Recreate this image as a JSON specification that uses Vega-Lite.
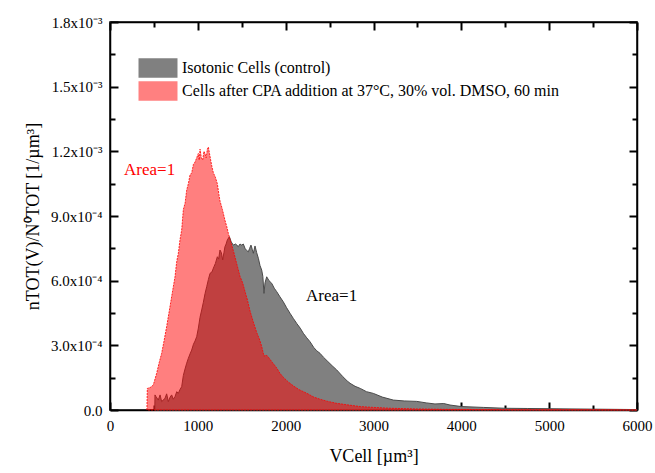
{
  "$schema": "https://vega.github.io/schema/vega-lite/v6.json",
  "width": 527,
  "height": 388,
  "autosize": "none",
  "padding": {"left": 110, "top": 22, "right": 18, "bottom": 63},
  "background": "white",
  "config": {"view": {"stroke": "black", "strokeWidth": 1.5}},
  "datasets": {
    "curves": [
      {"s":"g","V":510,"n":0},{"s":"g","V":512,"n":0.00007},{"s":"g","V":524,"n":0.000062},{"s":"g","V":550,"n":0.000046},{"s":"g","V":570,"n":0.00007},{"s":"g","V":588,"n":0.000039},{"s":"g","V":626,"n":0.000054},{"s":"g","V":645,"n":0.000075},{"s":"g","V":664,"n":0.000039},{"s":"g","V":685,"n":0.00006},{"s":"g","V":702,"n":0.00007},{"s":"g","V":720,"n":0.00005},{"s":"g","V":740,"n":0.000062},{"s":"g","V":760,"n":0.000085},{"s":"g","V":778,"n":0.000077},{"s":"g","V":797,"n":0.000095},{"s":"g","V":816,"n":0.000108},{"s":"g","V":835,"n":0.00016},{"s":"g","V":854,"n":0.00019},{"s":"g","V":873,"n":0.000217},{"s":"g","V":892,"n":0.00024},{"s":"g","V":911,"n":0.00026},{"s":"g","V":930,"n":0.000278},{"s":"g","V":950,"n":0.000305},{"s":"g","V":968,"n":0.00032},{"s":"g","V":987,"n":0.00034},{"s":"g","V":1006,"n":0.00038},{"s":"g","V":1025,"n":0.00043},{"s":"g","V":1044,"n":0.000464},{"s":"g","V":1063,"n":0.0005},{"s":"g","V":1082,"n":0.00054},{"s":"g","V":1101,"n":0.000572},{"s":"g","V":1120,"n":0.000605},{"s":"g","V":1139,"n":0.000634},{"s":"g","V":1160,"n":0.00064},{"s":"g","V":1184,"n":0.000665},{"s":"g","V":1200,"n":0.00068},{"s":"g","V":1222,"n":0.000711},{"s":"g","V":1237,"n":0.0007},{"s":"g","V":1252,"n":0.000742},{"s":"g","V":1268,"n":0.00073},{"s":"g","V":1283,"n":0.000696},{"s":"g","V":1297,"n":0.00073},{"s":"g","V":1309,"n":0.000758},{"s":"g","V":1322,"n":0.00077},{"s":"g","V":1336,"n":0.000789},{"s":"g","V":1359,"n":0.000804},{"s":"g","V":1380,"n":0.00078},{"s":"g","V":1404,"n":0.000765},{"s":"g","V":1430,"n":0.00077},{"s":"g","V":1461,"n":0.000758},{"s":"g","V":1480,"n":0.00077},{"s":"g","V":1499,"n":0.000765},{"s":"g","V":1518,"n":0.00077},{"s":"g","V":1537,"n":0.00075},{"s":"g","V":1556,"n":0.00074},{"s":"g","V":1575,"n":0.000734},{"s":"g","V":1590,"n":0.00075},{"s":"g","V":1605,"n":0.000765},{"s":"g","V":1620,"n":0.000745},{"s":"g","V":1632,"n":0.000727},{"s":"g","V":1651,"n":0.000761},{"s":"g","V":1670,"n":0.00073},{"s":"g","V":1689,"n":0.000704},{"s":"g","V":1708,"n":0.00067},{"s":"g","V":1727,"n":0.000649},{"s":"g","V":1740,"n":0.00062},{"s":"g","V":1753,"n":0.000541},{"s":"g","V":1765,"n":0.00059},{"s":"g","V":1784,"n":0.000618},{"s":"g","V":1810,"n":0.0006},{"s":"g","V":1841,"n":0.000588},{"s":"g","V":1870,"n":0.000565},{"s":"g","V":1898,"n":0.000549},{"s":"g","V":1935,"n":0.000525},{"s":"g","V":1973,"n":0.000502},{"s":"g","V":2010,"n":0.000475},{"s":"g","V":2049,"n":0.000449},{"s":"g","V":2087,"n":0.000425},{"s":"g","V":2125,"n":0.000402},{"s":"g","V":2165,"n":0.00038},{"s":"g","V":2201,"n":0.000356},{"s":"g","V":2240,"n":0.000335},{"s":"g","V":2277,"n":0.000317},{"s":"g","V":2320,"n":0.00029},{"s":"g","V":2353,"n":0.000275},{"s":"g","V":2391,"n":0.000263},{"s":"g","V":2430,"n":0.000245},{"s":"g","V":2480,"n":0.000225},{"s":"g","V":2530,"n":0.000205},{"s":"g","V":2581,"n":0.000186},{"s":"g","V":2650,"n":0.000155},{"s":"g","V":2700,"n":0.000135},{"s":"g","V":2733,"n":0.000124},{"s":"g","V":2790,"n":0.00011},{"s":"g","V":2850,"n":0.0001},{"s":"g","V":2920,"n":0.000085},{"s":"g","V":2998,"n":0.000077},{"s":"g","V":3100,"n":0.00006},{"s":"g","V":3226,"n":0.000046},{"s":"g","V":3350,"n":0.000042},{"s":"g","V":3492,"n":0.00004},{"s":"g","V":3600,"n":0.000033},{"s":"g","V":3700,"n":0.000028},{"s":"g","V":3800,"n":0.00003},{"s":"g","V":3871,"n":0.000023},{"s":"g","V":4000,"n":0.000016},{"s":"g","V":4250,"n":0.000012},{"s":"g","V":4500,"n":0.000008},{"s":"g","V":4750,"n":0.000007},{"s":"g","V":5010,"n":0.000006},{"s":"g","V":5500,"n":0.000004},{"s":"g","V":6000,"n":0.000002},
      {"s":"r","V":420,"n":0},{"s":"r","V":425,"n":0.0001},{"s":"r","V":460,"n":0.000105},{"s":"r","V":493,"n":0.000116},{"s":"r","V":531,"n":0.00017},{"s":"r","V":560,"n":0.00022},{"s":"r","V":588,"n":0.000263},{"s":"r","V":615,"n":0.00032},{"s":"r","V":645,"n":0.000387},{"s":"r","V":675,"n":0.00046},{"s":"r","V":702,"n":0.000526},{"s":"r","V":720,"n":0.00057},{"s":"r","V":740,"n":0.000618},{"s":"r","V":760,"n":0.00069},{"s":"r","V":778,"n":0.000727},{"s":"r","V":797,"n":0.00079},{"s":"r","V":816,"n":0.000835},{"s":"r","V":835,"n":0.00093},{"s":"r","V":855,"n":0.00096},{"s":"r","V":873,"n":0.00102},{"s":"r","V":892,"n":0.00105},{"s":"r","V":911,"n":0.00109},{"s":"r","V":930,"n":0.0011},{"s":"r","V":950,"n":0.00114},{"s":"r","V":968,"n":0.00115},{"s":"r","V":987,"n":0.00117},{"s":"r","V":1006,"n":0.00119},{"s":"r","V":1016,"n":0.00116},{"s":"r","V":1025,"n":0.00121},{"s":"r","V":1040,"n":0.00117},{"s":"r","V":1055,"n":0.00116},{"s":"r","V":1070,"n":0.0012},{"s":"r","V":1082,"n":0.00119},{"s":"r","V":1095,"n":0.00117},{"s":"r","V":1108,"n":0.00121},{"s":"r","V":1120,"n":0.00122},{"s":"r","V":1133,"n":0.00119},{"s":"r","V":1146,"n":0.00116},{"s":"r","V":1160,"n":0.00113},{"s":"r","V":1177,"n":0.0011},{"s":"r","V":1200,"n":0.00108},{"s":"r","V":1222,"n":0.00105},{"s":"r","V":1240,"n":0.001},{"s":"r","V":1252,"n":0.00097},{"s":"r","V":1280,"n":0.00093},{"s":"r","V":1309,"n":0.00088},{"s":"r","V":1330,"n":0.00085},{"s":"r","V":1347,"n":0.00082},{"s":"r","V":1375,"n":0.00078},{"s":"r","V":1404,"n":0.00074},{"s":"r","V":1442,"n":0.00068},{"s":"r","V":1480,"n":0.00062},{"s":"r","V":1510,"n":0.00059},{"s":"r","V":1537,"n":0.00055},{"s":"r","V":1565,"n":0.00051},{"s":"r","V":1594,"n":0.00046},{"s":"r","V":1630,"n":0.00041},{"s":"r","V":1670,"n":0.00036},{"s":"r","V":1700,"n":0.00033},{"s":"r","V":1727,"n":0.000295},{"s":"r","V":1753,"n":0.00025},{"s":"r","V":1780,"n":0.000255},{"s":"r","V":1803,"n":0.000245},{"s":"r","V":1850,"n":0.00022},{"s":"r","V":1898,"n":0.000195},{"s":"r","V":1935,"n":0.00017},{"s":"r","V":1973,"n":0.000152},{"s":"r","V":2030,"n":0.00013},{"s":"r","V":2087,"n":0.000112},{"s":"r","V":2150,"n":0.000095},{"s":"r","V":2239,"n":0.000078},{"s":"r","V":2320,"n":0.00006},{"s":"r","V":2391,"n":0.00005},{"s":"r","V":2480,"n":0.00004},{"s":"r","V":2581,"n":0.000031},{"s":"r","V":2700,"n":0.000024},{"s":"r","V":2850,"n":0.000016},{"s":"r","V":3000,"n":0.000012},{"s":"r","V":3200,"n":0.000008},{"s":"r","V":3500,"n":0.000005},{"s":"r","V":3800,"n":0.000003},{"s":"r","V":4200,"n":0.000002},{"s":"r","V":4800,"n":0.000001},{"s":"r","V":5400,"n":0.000001},{"s":"r","V":6000,"n":0}
    ],
    "notes": [
      {"V":160,"n":0.001113,"t":"Area=1","c":"r"},
      {"V":2232,"n":0.000529,"t":"Area=1","c":"k"}
    ]
  },
  "layer": [
    {
      "data": {"name": "curves"},
      "transform": [{"filter": "datum.s === 'g'"}],
      "mark": {"type": "area", "stroke": "#4a4a4a", "strokeWidth": 1},
      "encoding": {
        "x": {"field": "V", "type": "quantitative", "scale": {"domain": [0, 6000], "nice": false},
          "axis": {"orient": "bottom", "values": [0,1000,2000,3000,4000,5000,6000], "format": "d",
            "grid": true, "gridColor": "white", "domainColor": "#000000", "domainWidth": 1.5, "tickColor": "#000000", "tickWidth": 2,
            "labelFlush": false, "labelOverlap": false,
            "labelFont": "Liberation Serif", "labelFontSize": 15, "labelColor": "black",
            "titleFont": "Liberation Serif", "titleFontSize": 18, "titleFontWeight": "normal", "titleColor": "black",
            "tickSize": -8, "labelPadding": 16, "title": "VCell [µm³]", "titlePadding": 14}},
        "y": {"field": "n", "type": "quantitative", "stack": null, "scale": {"domain": [0, 0.0018], "nice": false},
          "axis": {"orient": "left", "values": [0,0.0003,0.0006,0.0009,0.0012,0.0015,0.0018],
            "labelExpr": "round(datum.value*1e5) === 0 ? '0.0' : round(datum.value*1e5) === 30 ? '3.0x10⁻⁴' : round(datum.value*1e5) === 60 ? '6.0x10⁻⁴' : round(datum.value*1e5) === 90 ? '9.0x10⁻⁴' : round(datum.value*1e5) === 120 ? '1.2x10⁻³' : round(datum.value*1e5) === 150 ? '1.5x10⁻³' : round(datum.value*1e5) === 180 ? '1.8x10⁻³' : ''",
            "grid": true, "gridColor": "white", "domainColor": "#000000", "domainWidth": 1.5, "tickColor": "#000000", "tickWidth": 2,
            "labelFlush": false,
            "labelFont": "Liberation Serif", "labelFontSize": 15, "labelColor": "black",
            "titleFont": "Liberation Serif", "titleFontSize": 18, "titleFontWeight": "normal", "titleColor": "black",
            "tickSize": -8, "labelPadding": 16, "title": "nTOT(V)/N⁰TOT [1/µm³]", "titlePadding": 8}},
        "color": {"field": "s", "type": "nominal", "scale": {"domain": ["g", "r"], "range": ["#808080", "#ff8080"]},
          "legend": {"title": null, "orient": "none", "legendX": 38, "legendY": 36,
            "labelExpr": "datum.value === 'g' ? 'Isotonic Cells (control)' : 'Cells after CPA addition at 37°C, 30% vol. DMSO, 60 min'",
            "symbolType": "M-2,-1H2V1H-2Z", "symbolSize": 380, "symbolStrokeWidth": 0, "symbolOpacity": 1,
            "labelFont": "Liberation Serif", "labelFontSize": 16, "labelColor": "black", "labelOffset": 14, "labelLimit": 0,
            "rowPadding": 3, "padding": 0}}
      }
    },
    {
      "data": {"name": "curves"},
      "transform": [{"filter": "datum.s === 'r'"}],
      "mark": {"type": "area", "fill": "#ff0000", "fillOpacity": 0.5, "stroke": "#ff0000", "strokeWidth": 1, "strokeOpacity": 0.8, "strokeDash": [2, 1]},
      "encoding": {
        "x": {"field": "V", "type": "quantitative",
          "axis": {"orient": "top", "values": [0,1000,2000,3000,4000,5000,6000], "labels": false, "title": null,
            "grid": true, "gridColor": "white", "domainColor": "#000000", "domainWidth": 1.5, "tickColor": "#000000", "tickWidth": 2, "tickSize": -8}},
        "y": {"field": "n", "type": "quantitative", "stack": null,
          "axis": {"orient": "right", "values": [0,0.0003,0.0006,0.0009,0.0012,0.0015,0.0018], "labels": false, "title": null,
            "grid": true, "gridColor": "white", "domainColor": "#000000", "domainWidth": 1.5, "tickColor": "#000000", "tickWidth": 2, "tickSize": -8}}
      }
    },
    {
      "data": {"name": "notes"},
      "transform": [{"filter": "datum.c === 'r'"}],
      "mark": {"type": "text", "align": "left", "baseline": "middle", "font": "Liberation Serif", "fontSize": 17, "color": "#ff0000"},
      "encoding": {
        "x": {"field": "V", "type": "quantitative",
          "axis": {"orient": "bottom", "values": [500,1500,2500,3500,4500,5500], "labels": false, "title": null,
            "grid": true, "gridColor": "white", "domain": false, "tickColor": "#000000", "tickWidth": 2, "tickSize": -5}},
        "y": {"field": "n", "type": "quantitative",
          "axis": {"orient": "left", "values": [0.00015,0.00045,0.00075,0.00105,0.00135,0.00165], "labels": false, "title": null,
            "grid": true, "gridColor": "white", "domain": false, "tickColor": "#000000", "tickWidth": 2, "tickSize": -5}},
        "text": {"field": "t"}
      }
    },
    {
      "data": {"name": "notes"},
      "transform": [{"filter": "datum.c === 'k'"}],
      "mark": {"type": "text", "align": "left", "baseline": "middle", "font": "Liberation Serif", "fontSize": 17, "color": "black"},
      "encoding": {
        "x": {"field": "V", "type": "quantitative",
          "axis": {"orient": "top", "values": [500,1500,2500,3500,4500,5500], "labels": false, "title": null,
            "grid": true, "gridColor": "white", "domain": false, "tickColor": "#000000", "tickWidth": 2, "tickSize": -5}},
        "y": {"field": "n", "type": "quantitative",
          "axis": {"orient": "right", "values": [0.00015,0.00045,0.00075,0.00105,0.00135,0.00165], "labels": false, "title": null,
            "grid": true, "gridColor": "white", "domain": false, "tickColor": "#000000", "tickWidth": 2, "tickSize": -5}},
        "text": {"field": "t"}
      }
    }
  ],
  "resolve": {"axis": {"x": "independent", "y": "independent"}}
}
